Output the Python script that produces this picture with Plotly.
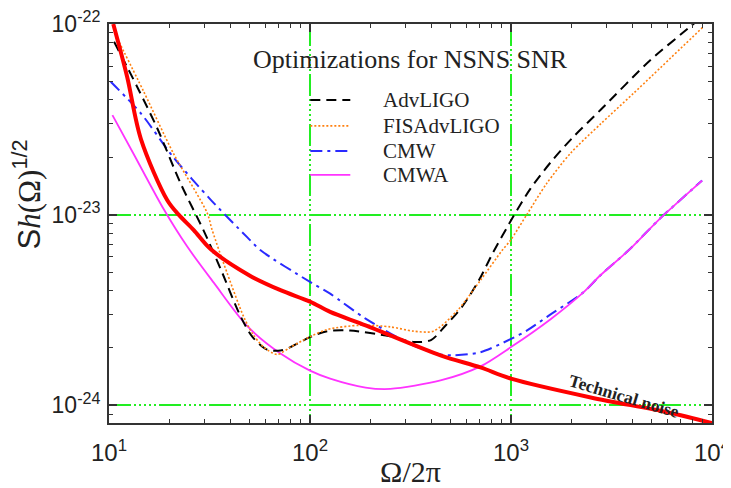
import plotly.graph_objects as go

# ---------------- data ----------------
tech_x = [10.5, 12.3, 14.4, 19.5, 22.2, 26.4, 32, 50, 71.3, 100, 126, 189, 446, 705, 1000, 2494, 6000, 10000]
tech_y = [1.0e-22, 5.3e-23, 2.5e-23, 1.19e-23, 1.0e-23, 8.3e-24, 6.6e-24, 4.8e-24, 4.02e-24, 3.5e-24,
          3.09e-24, 2.63e-24, 1.83e-24, 1.58e-24, 1.38e-24, 1.1e-24, 9.2e-25, 8.07e-25]

adv_x = [10.6, 13.8, 17.4, 22.7, 29.5, 35.9, 45, 51.6, 61.2, 71.3, 80, 100, 122, 158, 250, 327, 400,
         474, 570, 690, 806, 1028, 1250, 1574, 2000, 2786, 4943, 7810, 9000]
adv_y = [8.07e-23, 4.69e-23, 2.83e-23, 1.46e-23, 8.3e-24, 5.2e-24, 2.95e-24, 2.29e-24, 1.96e-24, 1.94e-24,
         2.02e-24, 2.28e-24, 2.45e-24, 2.47e-24, 2.3e-24, 2.15e-24, 2.2e-24,
         2.63e-24, 3.28e-24, 4.5e-24, 6.2e-24, 9.8e-24, 1.37e-23, 1.88e-23, 2.5e-23, 3.54e-23, 6.47e-23,
         9.7e-23, 1.1e-22]

fis_x = [11, 14.9, 20.9, 30.8, 32.6, 38.8, 46.8, 51.6, 58.8, 68.6, 80, 100, 122, 178, 251, 327, 411,
         542, 705, 904, 995, 1205, 1500, 1977, 2800, 4070, 9080]
fis_y = [8.4e-23, 4.41e-23, 2.1e-23, 1.02e-23, 8.3e-24, 4.9e-24, 2.91e-24, 2.39e-24, 2.02e-24, 1.85e-24,
         2.02e-24, 2.29e-24, 2.5e-24, 2.63e-24, 2.58e-24, 2.45e-24, 2.45e-24,
         3.15e-24, 4.53e-24, 6.5e-24, 7.35e-24, 1.01e-23, 1.45e-23, 2.1e-23, 3.0e-23, 4.33e-23, 9.7e-23]

cmw_x = [10.2, 14.4, 20.9, 32, 48.8, 56.8, 100, 126, 189, 327, 446, 518, 705, 1000, 1208, 1574, 2283,
         2786, 3846, 5546, 8930]
cmw_y = [4.98e-23, 3.4e-23, 2.0e-23, 1.2e-23, 7.6e-24, 6.5e-24, 4.44e-24, 3.85e-24, 2.85e-24, 2.06e-24,
         1.85e-24, 1.83e-24, 1.9e-24, 2.23e-24, 2.48e-24, 3.0e-24, 3.9e-24,
         4.81e-24, 6.5e-24, 9.6e-24, 1.51e-23]

cmwa_x = [10.4, 13.2, 18.7, 24.5, 33.2, 48.8, 71.3, 100, 126, 189, 251, 446, 705, 1000, 1574, 2283,
          2786, 3846, 5546, 8930]
cmwa_y = [3.33e-23, 2.1e-23, 1.07e-23, 6.8e-24, 4.4e-24, 2.6e-24, 1.87e-24, 1.52e-24, 1.38e-24,
          1.24e-24, 1.22e-24, 1.35e-24, 1.6e-24, 2.02e-24, 2.83e-24, 3.9e-24, 4.81e-24, 6.5e-24,
          9.6e-24, 1.51e-23]

x_tickvals = [10, 100, 1000, 10000]
x_ticktext = ["10<sup>1</sup>", "10<sup>2</sup>", "10<sup>3</sup>", "10<sup>4</sup>"]
y_tickvals = [1e-24, 1e-23, 1e-22]
y_ticktext = ["10<sup>-24</sup>", "10<sup>-23</sup>", "10<sup>-22</sup>"]

series_names = ["AdvLIGO", "FISAdvLIGO", "CMW", "CMWA"]
title_text = "Optimizations for NSNS SNR"
noise_label = "Technical noise"

# ---------------- styling ----------------
SERIF = "Liberation Serif"
SANS = "Liberation Sans"
TXT = "#222222"
styles = [
    dict(color="black", width=2, dash="10px,6px"),
    dict(color="#ff8010", width=1.6, dash="2px,2px"),
    dict(color="#2a2aff", width=2, dash="12px,5px,3px,5px"),
    dict(color="#ff33ff", width=1.8, dash="solid"),
]
series = [(adv_x, adv_y), (fis_x, fis_y), (cmw_x, cmw_y), (cmwa_x, cmwa_y)]
draw_order = [2, 3, 0, 1]

fig = go.Figure()
for i in draw_order:
    sx, sy = series[i]
    st = styles[i]
    fig.add_trace(go.Scatter(x=sx, y=sy, mode="lines", name=series_names[i], showlegend=False,
                             line=dict(color=st["color"], width=st["width"], dash=st["dash"],
                                       shape="spline", smoothing=0.8)))
fig.add_trace(go.Scatter(x=tech_x, y=tech_y, mode="lines", name=noise_label, showlegend=False,
                         line=dict(color="#ff0000", width=4, shape="spline", smoothing=0.9)))

# page body has an 8px margin; figure is sized so the plot area lands at these page pixels
PAGE_OFF = 8
PX0, PX1, PY0, PY1 = 108.5, 712.0, 24.0, 423.3
def px_to_paper_x(px):
    return (px - PX0) / (PX1 - PX0)
def py_to_paper_y(py):
    return (PY1 - py) / (PY1 - PY0)

legend_rows_py = [100, 126, 151, 175]
for i, py in enumerate(legend_rows_py):
    st = styles[i]
    fig.add_shape(type="line", xref="paper", yref="paper",
                  x0=px_to_paper_x(310), x1=px_to_paper_x(350),
                  y0=py_to_paper_y(py), y1=py_to_paper_y(py),
                  line=dict(color=st["color"], width=st["width"], dash=st["dash"]))
    fig.add_annotation(xref="paper", yref="paper", x=px_to_paper_x(381), y=py_to_paper_y(py),
                       text=series_names[i], showarrow=False, xanchor="left", yanchor="middle",
                       font=dict(family=SERIF, size=21, color=TXT))

grid_dash = "22px,3px,2px,3px,2px,3px,2px,3px,2px,3px,2px,3px"
axis_col = "#333333"

x_minor = [m * 10 ** e for e in range(1, 4) for m in range(2, 10)]
y_minor = [m * 10.0 ** e for e in (-25, -24, -23) for m in range(2, 10)]

fig.update_xaxes(
    type="log", range=[1, 4], automargin=False,
    tickmode="array", tickvals=x_tickvals, ticktext=x_ticktext,
    ticks="inside", ticklen=8, tickwidth=1.5, tickcolor=axis_col,
    showline=True, linecolor=axis_col, linewidth=2, mirror="allticks",
    showgrid=True, gridcolor="#22ee22", gridwidth=1.5, griddash=grid_dash,
    minor=dict(tickmode="array", tickvals=x_minor, ticks="inside", ticklen=4,
               tickwidth=1.2, tickcolor=axis_col, showgrid=False),
    tickfont=dict(family=SANS, size=24, color=TXT), ticklabelstandoff=7,
    ticklabeloverflow="allow",
    zeroline=False,
    title=dict(text="Ω/2π", font=dict(family=SERIF, size=30, color=TXT), standoff=2),
)
fig.update_yaxes(
    type="log", range=[-24.0926, -22], automargin=False,
    tickmode="array", tickvals=y_tickvals, ticktext=y_ticktext,
    ticks="inside", ticklen=8, tickwidth=1.5, tickcolor=axis_col,
    showline=True, linecolor=axis_col, linewidth=2, mirror="allticks",
    showgrid=True, gridcolor="#22ee22", gridwidth=1.5, griddash=grid_dash,
    minor=dict(tickmode="array", tickvals=y_minor, ticks="inside", ticklen=4,
               tickwidth=1.2, tickcolor=axis_col, showgrid=False),
    tickfont=dict(family=SANS, size=23, color=TXT), ticklabelstandoff=2,
    ticklabeloverflow="allow",
    zeroline=False,
)

fig.add_annotation(xref="paper", yref="paper", x=px_to_paper_x(410), y=py_to_paper_y(60),
                   text=title_text, showarrow=False,
                   font=dict(family=SERIF, size=26, color=TXT), xanchor="center", yanchor="middle")

fig.add_annotation(xref="paper", yref="paper", x=px_to_paper_x(26), y=py_to_paper_y(195),
                   textangle=-90, showarrow=False,
                   text='<span style="font-family:Liberation Sans">S</span><i>h</i>(Ω)'
                        '<sup><span style="font-family:Liberation Sans">1/2</span></sup>',
                   font=dict(family=SERIF, size=31, color=TXT), xanchor="center", yanchor="middle")

fig.add_annotation(x=3.56, y=-23.953, xref="x", yref="y", text="<b>" + noise_label + "</b>",
                   showarrow=False, textangle=16.5, font=dict(family=SERIF, size=17.5, color=TXT))

fig.update_layout(
    width=731 - PAGE_OFF, height=488 - PAGE_OFF,
    margin=dict(l=PX0 - PAGE_OFF, r=731 - PX1, t=PY0 - PAGE_OFF, b=488 - PY1,
                autoexpand=False),
    paper_bgcolor="white", plot_bgcolor="white",
    showlegend=False,
)

fig.write_html("out.html")
